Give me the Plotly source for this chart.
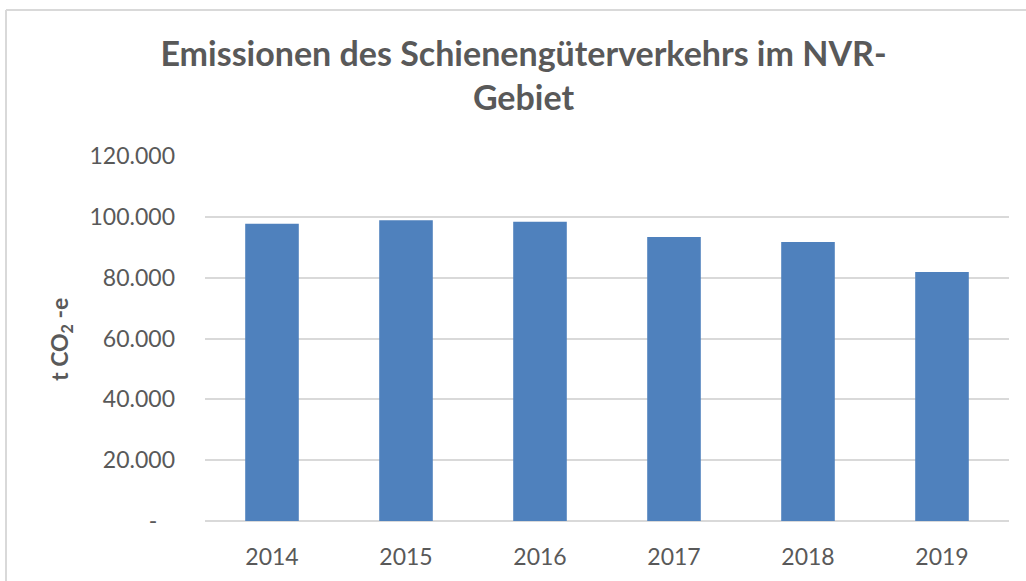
import plotly.graph_objects as go

years = ["2014", "2015", "2016", "2017", "2018", "2019"]
emissions = [97700, 98900, 98400, 93400, 91700, 81900]
y_tickvals = [0, 20000, 40000, 60000, 80000, 100000, 120000]
y_ticktext = ["-\u00a0\u00a0\u00a0", "20.000", "40.000", "60.000", "80.000", "100.000", "120.000"]

title_text = "Emissionen des Schienengüterverkehrs im NVR-<br>Gebiet"
y_title = "t CO<sub>2</sub> -e"

W, H = 1026, 581
L, R, T, B = 205, 1026 - 1009, 156, 581 - 521
pw, ph = W - L - R, H - T - B


def px(x):
    return (x - L) / pw


def py(y):
    return (H - B - y) / ph


grey = "#595959"
grid = "#d9d9d9"

fig = go.Figure(go.Bar(
    x=years, y=emissions,
    marker=dict(color="#4f81bd", line=dict(width=0)),
    width=0.4,
))

fig.update_layout(
    width=W, height=H,
    margin=dict(l=L, r=R, t=T, b=B, autoexpand=False),
    paper_bgcolor="white", plot_bgcolor="white",
    showlegend=False,
    font=dict(family="Lato, 'Open Sans', sans-serif", color=grey),
    title=dict(
        text=title_text,
        font=dict(family="Lato", size=34, color=grey, weight="bold"),
        x=523.5 / W, xref="container", xanchor="center",
        y=1 - 66 / H, yref="container", yanchor="middle",
    ),
    xaxis=dict(
        type="category",
        showgrid=False, showline=False, zeroline=False,
        ticks="", ticklabelstandoff=20,
        tickfont=dict(family="Lato", size=23, color=grey),
    ),
    yaxis=dict(
        range=[0, 120000],
        tickvals=y_tickvals, ticktext=y_ticktext,
        showgrid=True, gridcolor=grid, gridwidth=2,
        zeroline=True, zerolinecolor=grid, zerolinewidth=2,
        showline=False, ticks="", ticklabelstandoff=29,
        tickfont=dict(family="Lato", size=23, color=grey),
    ),
    annotations=[dict(
        text=y_title, textangle=-90,
        xref="paper", yref="paper",
        x=px(60), y=py(340),
        xanchor="center", yanchor="middle", showarrow=False,
        font=dict(family="Lato", size=23, color=grey, weight="bold"),
    )],
    shapes=[
        dict(type="line", xref="paper", yref="paper",
             x0=px(6), x1=px(1026), y0=py(10), y1=py(10),
             line=dict(color=grid, width=2)),
        dict(type="line", xref="paper", yref="paper",
             x0=px(6), x1=px(6), y0=py(10), y1=py(581),
             line=dict(color=grid, width=2)),
    ],
)

fig.write_html(
    "out.html",
    config={"displayModeBar": False},
    post_script="document.body.style.margin='0';",
)
